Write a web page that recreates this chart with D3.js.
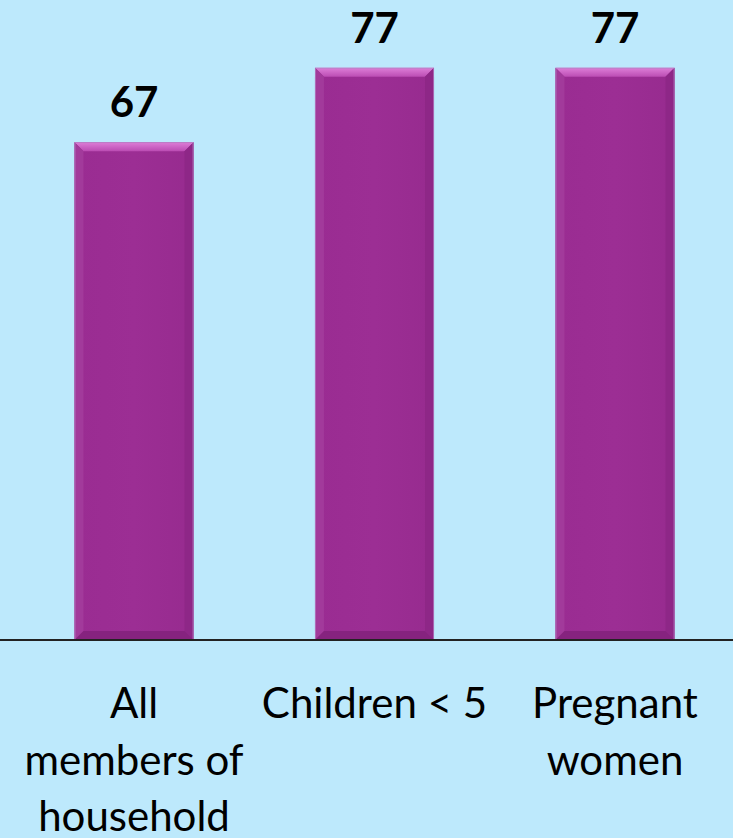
<!DOCTYPE html>
<html lang="en">
<head>
    <meta charset="UTF-8">
    <title>Bar chart</title>
    <style>
        body { margin: 0; background: #bde9fc; }
        svg { display: block; }
    </style>
</head>
<body>
    <script src="https://d3js.org/d3.v7.min.js"></script>
    <script>
        // data
        let categories = ["All members of household", "Children < 5", "Pregnant women"];
        let labelLines = [["All", "members of", "household"], ["Children < 5"], ["Pregnant", "women"]];
        let values = [67, 77, 77];

        let width = 733, height = 838;
        let baseY = 640;

        let svg = d3.select("body").append("svg")
            .attr("width", width)
            .attr("height", height);

        svg.append("rect")
            .attr("width", width).attr("height", height)
            .attr("fill", "#bde9fc");

        let x = d3.scaleBand()
            .domain(categories)
            .range([13.75, 735.25])
            .paddingInner(0.505)
            .paddingOuter(0.2525);

        let y = d3.scaleLinear()
            .domain([0, 86])
            .range([baseY, 1]);

        // gradients for the bevelled bars
        let defs = svg.append("defs");
        let bodyGrad = defs.append("linearGradient").attr("id", "body")
            .attr("x1", 0).attr("x2", 1).attr("y1", 0).attr("y2", 0);
        bodyGrad.append("stop").attr("offset", "0%").attr("stop-color", "#9a2c92");
        bodyGrad.append("stop").attr("offset", "50%").attr("stop-color", "#9c2e94");
        bodyGrad.append("stop").attr("offset", "100%").attr("stop-color", "#972b8f");

        let topGrad = defs.append("linearGradient").attr("id", "topEdge")
            .attr("x1", 0).attr("x2", 0).attr("y1", 0).attr("y2", 1);
        topGrad.append("stop").attr("offset", "0%").attr("stop-color", "#de7ed8");
        topGrad.append("stop").attr("offset", "100%").attr("stop-color", "#bb4cb3");

        let bev = 9;
        let bars = svg.selectAll("g.bar").data(categories).enter().append("g")
            .attr("class", "bar");

        bars.append("rect")
            .attr("x", function(d){ return x(d); })
            .attr("y", function(d, i){ return y(values[i]); })
            .attr("width", x.bandwidth())
            .attr("height", function(d, i){ return baseY - y(values[i]); })
            .attr("fill", "url(#body)");

        // top bevel
        bars.append("polygon")
            .attr("points", function(d, i){
                let x0 = x(d), x1 = x(d) + x.bandwidth(), t = y(values[i]);
                return [[x0, t], [x1, t], [x1 - bev, t + bev], [x0 + bev, t + bev]].join(" ");
            })
            .attr("fill", "url(#topEdge)");

        // side bevels
        bars.append("polygon")
            .attr("points", function(d, i){
                let x0 = x(d), t = y(values[i]);
                return [[x0, t], [x0 + bev, t + bev], [x0 + bev, baseY - bev], [x0, baseY]].join(" ");
            })
            .attr("fill", "#a23a9b");
        bars.append("polygon")
            .attr("points", function(d, i){
                let x1 = x(d) + x.bandwidth(), t = y(values[i]);
                return [[x1, t], [x1 - bev, t + bev], [x1 - bev, baseY - bev], [x1, baseY]].join(" ");
            })
            .attr("fill", "#8e2787");

        // bottom bevel
        bars.append("polygon")
            .attr("points", function(d){
                let x0 = x(d), x1 = x(d) + x.bandwidth();
                return [[x0, baseY], [x1, baseY], [x1 - bev, baseY - bev], [x0 + bev, baseY - bev]].join(" ");
            })
            .attr("fill", "#86237f");

        // thin outline
        bars.append("rect")
            .attr("x", function(d){ return x(d) + 0.5; })
            .attr("y", function(d, i){ return y(values[i]) + 0.5; })
            .attr("width", x.bandwidth() - 1)
            .attr("height", function(d, i){ return baseY - y(values[i]) - 1; })
            .attr("fill", "none")
            .attr("stroke", "#b383c4")
            .attr("stroke-opacity", 0.7)
            .attr("stroke-width", 1);

        // value labels
        bars.append("text")
            .attr("x", function(d){ return x(d) + x.bandwidth() / 2; })
            .attr("y", function(d, i){ return y(values[i]) - 25; })
            .attr("text-anchor", "middle")
            .attr("font-family", "Lato, 'Open Sans', sans-serif")
            .attr("font-weight", "bold")
            .attr("font-size", 42)
            .attr("fill", "#000")
            .text(function(d, i){ return values[i]; });

        // baseline axis
        let axis = svg.append("g")
            .attr("transform", "translate(0," + baseY + ")")
            .call(d3.axisBottom(x).tickSize(0).tickFormat(""));
        axis.select(".domain").remove();
        axis.append("line")
            .attr("x1", 0).attr("x2", width)
            .attr("stroke", "#222").attr("stroke-width", 2);

        // category labels
        let labels = svg.selectAll("text.cat").data(categories).enter().append("text")
            .attr("class", "cat")
            .attr("x", function(d){ return x(d) + x.bandwidth() / 2; })
            .attr("y", 718)
            .attr("text-anchor", "middle")
            .attr("font-family", "Lato, 'Open Sans', sans-serif")
            .attr("font-size", 42)
            .attr("fill", "#000");

        labels.selectAll("tspan")
            .data(function(d, i){ return labelLines[i]; })
            .enter().append("tspan")
            .attr("x", function(){ let p = d3.select(this.parentNode).datum(); return x(p) + x.bandwidth() / 2; })
            .attr("dy", function(d, j){ return j === 0 ? 0 : 56.5; })
            .text(function(d){ return d; });
    </script>
</body>
</html>
